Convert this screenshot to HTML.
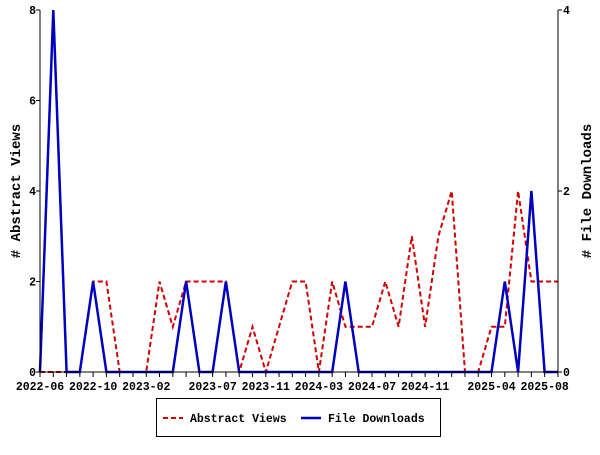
<!DOCTYPE html>
<html><head><meta charset="utf-8"><style>
html,body{margin:0;padding:0;background:#fff;}
svg text{font-family:"Liberation Mono","DejaVu Sans Mono",monospace;font-weight:bold;font-size:11.5px;fill:#000;}
</style></head><body>
<svg width="600" height="450" viewBox="0 0 600 450" xmlns="http://www.w3.org/2000/svg">
<rect width="600" height="450" fill="#fff"/>
<g id="plot"></g>
<line x1="40" y1="10" x2="40" y2="372" stroke="#000"/>
<line x1="558" y1="10" x2="558" y2="372" stroke="#000"/>
<line x1="40" y1="372" x2="558" y2="372" stroke="#000"/>
<g stroke="#000">
<line x1="36" y1="372" x2="40" y2="372"/><line x1="36" y1="281.5" x2="40" y2="281.5"/><line x1="36" y1="191" x2="40" y2="191"/><line x1="36" y1="100.5" x2="40" y2="100.5"/><line x1="36" y1="10" x2="40" y2="10"/>
<line x1="558" y1="372" x2="562" y2="372"/><line x1="558" y1="191" x2="562" y2="191"/><line x1="558" y1="10" x2="562" y2="10"/>
</g>
<g text-anchor="end">
<text x="36" y="376">0</text><text x="36" y="285.5">2</text><text x="36" y="195">4</text><text x="36" y="104.5">6</text><text x="36" y="14">8</text>
</g>
<g>
<text x="563" y="376">0</text><text x="563" y="195">2</text><text x="563" y="14">4</text>
</g>
<text transform="translate(20,191) rotate(-90)" text-anchor="middle" style="font-size:14px">#  Abstract Views</text>
<text transform="translate(591,191) rotate(-90)" text-anchor="middle" style="font-size:14px"># File Downloads</text>
<g id="xt" stroke="#000"></g>
<g id="xl" text-anchor="middle"></g>
<rect x="156.5" y="398.5" width="284" height="38" fill="none" stroke="#000"/>
<line x1="163" y1="418" x2="183" y2="418" stroke="#d00000" stroke-width="2" stroke-dasharray="5,3"/>
<text x="190" y="422">Abstract Views</text>
<line x1="301" y1="418" x2="321" y2="418" stroke="#0000c0" stroke-width="2.5"/>
<text x="328" y="422">File Downloads</text>
</svg>
<script>
const X=i=>40+13.28*i;
const v=[0,0,0,0,2,2,0,0,0,2,1,2,2,2,2,0,1,0,1,2,2,0,2,1,1,1,2,1,3,1,3,4,0,0,1,1,4,2,2,2];
const d=new Array(40).fill(0);d[1]=4;d[4]=1;d[11]=1;d[14]=1;d[23]=1;d[35]=1;d[37]=2;
const p=document.getElementById('plot');const ns='http://www.w3.org/2000/svg';
function pl(pts,col,dash,w){const e=document.createElementNS(ns,'polyline');e.setAttribute('points',pts.join(' '));e.setAttribute('fill','none');e.setAttribute('stroke',col);e.setAttribute('stroke-width',w);if(dash)e.setAttribute('stroke-dasharray',dash);p.appendChild(e);}
pl(v.map((a,i)=>X(i).toFixed(1)+','+(372-45.25*a).toFixed(1)),'#d00000','5,3','2');
pl(d.map((a,i)=>X(i).toFixed(1)+','+(372-90.5*a).toFixed(1)),'#0000c0',null,'2.5');
const xt=document.getElementById('xt'),xl=document.getElementById('xl');
for(let i=0;i<40;i++){const l=document.createElementNS(ns,'line');l.setAttribute('x1',X(i));l.setAttribute('x2',X(i));l.setAttribute('y1',372);l.setAttribute('y2',377);xt.appendChild(l);}
const labs={0:'2022-06',4:'2022-10',8:'2023-02',13:'2023-07',17:'2023-11',21:'2024-03',25:'2024-07',29:'2024-11',34:'2025-04',38:'2025-08'};
for(const k in labs){const t=document.createElementNS(ns,'text');t.setAttribute('x',X(+k));t.setAttribute('y',390);t.textContent=labs[k];xl.appendChild(t);}
</script>
</body></html>
